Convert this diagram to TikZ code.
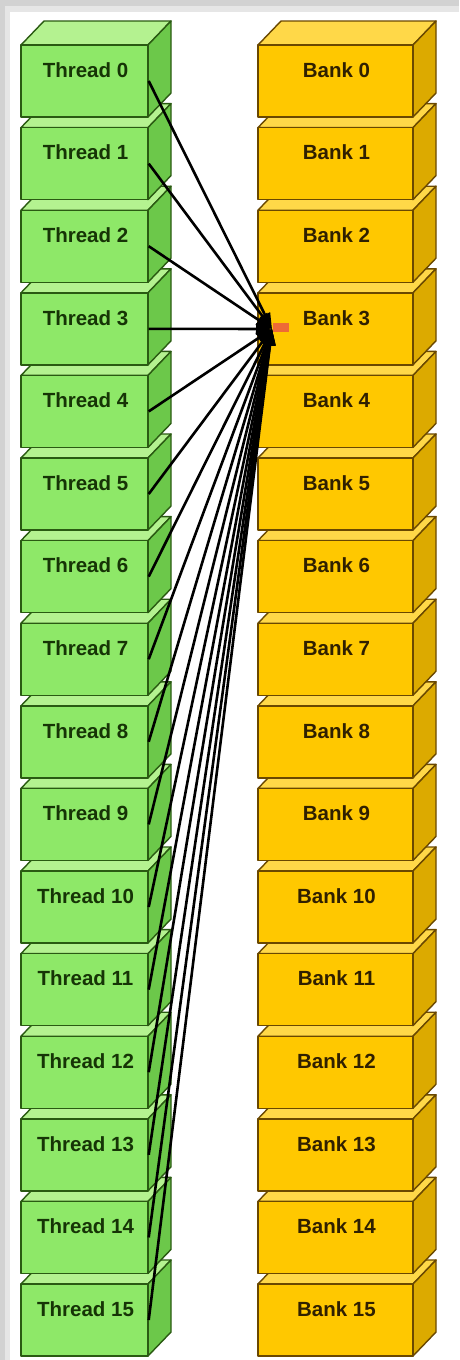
\documentclass[tikz,border=0pt]{standalone}
\usepackage{fontspec}
\setmainfont{Liberation Sans}
\usetikzlibrary{arrows.meta}

\definecolor{tfrontc}{HTML}{8EE868}
\definecolor{ttopc}{HTML}{B4F290}
\definecolor{tsidec}{HTML}{6CC84A}
\definecolor{tedge}{HTML}{2A5A12}
\definecolor{ttext}{HTML}{163406}
\definecolor{bfrontc}{HTML}{FFC800}
\definecolor{btopc}{HTML}{FFD848}
\definecolor{bsidec}{HTML}{DCAA00}
\definecolor{bedge}{HTML}{6A4800}
\definecolor{btext}{HTML}{302000}
\definecolor{markc}{HTML}{EE6A36}
\definecolor{shadowc}{HTML}{D2D2D2}
\definecolor{shadowb}{HTML}{E6E6E6}

\tikzset{
  x=1pt, y=-1pt,
  facet/.style={line width=1.4pt, line join=round},
  tfront/.style={facet, draw=tedge, fill=tfrontc, rectangle, inner sep=0pt,
                 minimum width=127pt, minimum height=72pt},
  bfront/.style={facet, draw=bedge, fill=bfrontc, rectangle, inner sep=0pt,
                 minimum width=155pt, minimum height=72pt},
  tlabel/.style={text=ttext, font=\fontsize{20.5}{24}\selectfont\bfseries, inner sep=0pt},
  blabel/.style={text=btext, font=\fontsize{20.5}{24}\selectfont\bfseries, inner sep=0pt},
  conn/.style={line width=2.6pt, black, -{Triangle[length=16pt,width=11pt]}},
}

\begin{document}
\begin{tikzpicture}
  % page frame with a soft grey shadow on the top and left
  \fill[shadowc] (0,0) rectangle (459,1360);
  \fill[shadowb] (5,6) rectangle (459,1360);
  \fill[white] (10,12) rectangle (459,1360);
  \useasboundingbox (0,0) rectangle (459,1360);

  % stacks of 3-D blocks, drawn bottom-up so each block overlaps the one below
  \foreach \k in {15,14,...,0} {
    \pgfmathsetmacro\yy{45+82.6*\k}
    % thread block
    \filldraw[facet, draw=tedge, fill=ttopc]
      (21,\yy) -- (44,\yy-24) -- (171,\yy-24) -- (148,\yy) -- cycle;
    \filldraw[facet, draw=tedge, fill=tsidec]
      (148,\yy) -- (171,\yy-24) -- (171,\yy+48) -- (148,\yy+72) -- cycle;
    \node[tfront] (t\k) at (84.5,\yy+36) {};
    \node[tlabel] (tl\k) at (85.5,\yy+25) {Thread \k};
    % bank block
    \filldraw[facet, draw=bedge, fill=btopc]
      (258,\yy) -- (281,\yy-24) -- (436,\yy-24) -- (413,\yy) -- cycle;
    \filldraw[facet, draw=bedge, fill=bsidec]
      (413,\yy) -- (436,\yy-24) -- (436,\yy+48) -- (413,\yy+72) -- cycle;
    \node[bfront] (b\k) at (335.5,\yy+36) {};
    \node[blabel] (bl\k) at (336.5,\yy+25) {Bank \k};
  }

  % marker at the accessed word of bank 3
  \node[fill=markc, inner sep=0pt, minimum width=16pt, minimum height=9pt]
    (mark) at (281,327) {};

  % every thread reads from the same bank
  \coordinate (hub) at (272,329);
  \foreach \k in {0,1,...,15} {
    \draw[conn] (t\k.east) -- (hub);
  }
\end{tikzpicture}
\end{document}
